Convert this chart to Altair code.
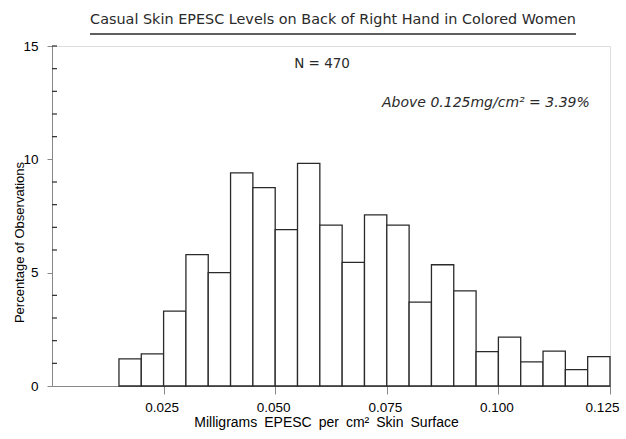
import altair as alt
import pandas as pd

# Histogram bins (mg EPESC per cm^2) and percentage of observations
bin_start = [0.015, 0.020, 0.025, 0.030, 0.035, 0.040, 0.045, 0.050, 0.055, 0.060, 0.065,
             0.070, 0.075, 0.080, 0.085, 0.090, 0.095, 0.100, 0.105, 0.110, 0.115, 0.120]
bin_end = [0.020, 0.025, 0.030, 0.035, 0.040, 0.045, 0.050, 0.055, 0.060, 0.065, 0.070,
           0.075, 0.080, 0.085, 0.090, 0.095, 0.100, 0.105, 0.110, 0.115, 0.120, 0.125]
percent = [1.20, 1.42, 3.30, 5.80, 5.00, 9.40, 8.75, 6.90, 9.82, 7.10, 5.45,
           7.55, 7.10, 3.70, 5.35, 4.20, 1.52, 2.16, 1.06, 1.54, 0.72, 1.30]

x_ticks = [0.025, 0.050, 0.075, 0.100, 0.125]
y_ticks = [0, 5, 10, 15]
y_minor = [1, 2, 3, 4, 6, 7, 8, 9, 11, 12, 13, 14, 15]

SP = "\u2002"
title_text = "Casual Skin EPESC Levels  on Back of Right Hand in Colored Women"
n_text = "N = 470"
above_text = "Above  0.125mg/cm² = 3.39%"
x_title = SP.join(["Milligrams", "EPESC", "per", "cm²", "Skin", "Surface"])
y_title = "Percentage of Observations"

FONT = "DejaVu Sans"
INK = "#2a2a2a"

bars_df = pd.DataFrame({"start": bin_start, "end": bin_end, "pct": percent})
minor_df = pd.DataFrame({"v": y_minor})
one = pd.DataFrame({"a": [0]})

xscale = alt.Scale(domain=[0, 0.125], nice=False, zero=False)
yscale = alt.Scale(domain=[0, 15], nice=False)

bars = alt.Chart(bars_df).mark_rect(
    fill="white", stroke=INK, strokeWidth=1.3
).encode(
    x=alt.X("start:Q", scale=xscale,
            axis=alt.Axis(values=x_ticks, format=".3f", title=x_title,
                          tickSize=8, labelPadding=6, labelFontSize=13.5,
                          labelFlush=False, labelOverlap=False,
                          labelOffset={"condition": {"test": "datum.value > 0.12", "value": -8},
                                       "value": -2},
                          titleFontSize=14, titleFontWeight="normal",
                          titleX=274, titleY=36, titleBaseline="middle",
                          titleAlign="center", grid=False)),
    x2="end:Q",
    y=alt.Y("pct:Q", scale=yscale,
            axis=alt.Axis(values=y_ticks, format="d", title=y_title,
                          tickSize=5, labelPadding=9, labelFontSize=13.5,
                          labelFlush=False, labelOverlap=False,
                          titleFontSize=13, titleFontWeight="normal",
                          titleX=-33, titleY=196, titleAngle=-90,
                          titleBaseline="middle", titleAlign="center",
                          grid=False)),
    y2=alt.datum(0),
)

minor = alt.Chart(minor_df).mark_rule(color=INK, strokeWidth=1.2).encode(
    y=alt.Y("v:Q", scale=yscale),
    x=alt.value(0),
    x2=alt.value(5),
)

underline = alt.Chart(one).mark_rule(color=INK, strokeWidth=1.3).encode(
    x=alt.value(38), x2=alt.value(524), y=alt.value(-12)
)

n_label = alt.Chart(one).mark_text(
    text=n_text, font=FONT, fontSize=13.5, color=INK, align="center", baseline="middle"
).encode(x=alt.datum(0.0605, scale=xscale), y=alt.datum(14.2, scale=yscale))

above_label = alt.Chart(one).mark_text(
    text=above_text, font=FONT, fontSize=14, fontStyle="italic", color=INK,
    align="center", baseline="middle"
).encode(x=alt.datum(0.0972, scale=xscale), y=alt.datum(12.48, scale=yscale))

chart = alt.layer(bars, minor, underline, n_label, above_label).properties(
    width=558,
    height=340,
    title=alt.TitleParams(title_text, font=FONT, fontSize=14.4, fontWeight="normal",
                          color=INK, anchor="middle", offset=6, dx=2),
    padding={"left": 52, "top": 46, "right": 16, "bottom": 53},
    autosize=alt.AutoSizeParams(type="none"),
).configure_view(stroke=None).configure_axis(
    domainColor=INK, tickColor=INK, labelColor=INK, titleColor=INK,
    labelFont=FONT, titleFont=FONT, domainWidth=1.3, tickWidth=1.3
).configure(background="white")

chart.save("out.html", embed_options={"renderer": "svg", "actions": False})
